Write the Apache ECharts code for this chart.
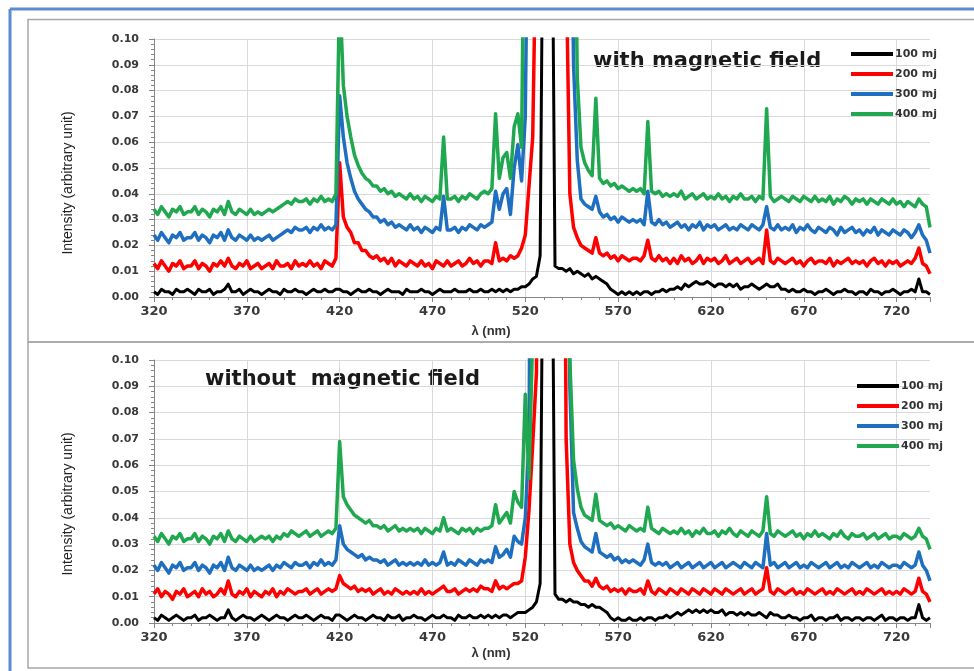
<!DOCTYPE html>
<html>
<head>
<meta charset="utf-8">
<script src="https://cdn.jsdelivr.net/npm/echarts@6/dist/echarts.min.js"></script>
<style>
html,body{margin:0;padding:0;background:#fff;}
#chart{width:974px;height:671px;}
</style>
</head>
<body>
<div id="chart"></div>
<script>
// Wavelength samples (nm)
const wavelength = [
320,322,324,326,328,330,332,334,336,338,
340,342,344,346,348,350,352,354,356,358,
360,362,364,366,368,370,372,374,376,378,
380,382,384,386,388,390,392,394,396,398,
400,402,404,406,408,410,412,414,416,418,
420,422,424,426,428,430,432,434,436,438,
440,442,444,446,448,450,452,454,456,458,
460,462,464,466,468,470,472,474,476,478,
480,482,484,486,488,490,492,494,496,498,
500,502,504,506,508,510,512,514,516,518,
520,522,524,526,528,530,532,534,536,538,
540,542,544,546,548,550,552,554,556,558,
560,562,564,566,568,570,572,574,576,578,
580,582,584,586,588,590,592,594,596,598,
600,602,604,606,608,610,612,614,616,618,
620,622,624,626,628,630,632,634,636,638,
640,642,644,646,648,650,652,654,656,658,
660,662,664,666,668,670,672,674,676,678,
680,682,684,686,688,690,692,694,696,698,
700,702,704,706,708,710,712,714,716,718,
720,722,724,726,728,730,732,734,736,738
];

const seriesNames = ['100 mj', '200 mj', '300 mj', '400 mj'];
const xTickLabels = [320, 370, 420, 470, 520, 570, 620, 670, 720];

// ---------- with magnetic field ----------
const int100_with = [
0.002,0.001,0.003,0.002,0.002,0.001,0.003,0.002,0.002,0.003,
0.002,0.001,0.003,0.002,0.002,0.003,0.001,0.002,0.002,0.003,
0.005,0.002,0.002,0.003,0.001,0.002,0.003,0.002,0.002,0.001,
0.002,0.003,0.002,0.002,0.001,0.003,0.002,0.002,0.003,0.002,
0.002,0.001,0.002,0.003,0.002,0.002,0.003,0.002,0.002,0.003,
0.003,0.002,0.002,0.001,0.002,0.003,0.002,0.002,0.003,0.002,
0.002,0.001,0.002,0.003,0.002,0.002,0.002,0.001,0.003,0.002,
0.002,0.002,0.003,0.002,0.002,0.001,0.002,0.003,0.002,0.002,
0.002,0.003,0.002,0.002,0.002,0.003,0.002,0.002,0.003,0.002,
0.002,0.003,0.002,0.003,0.002,0.003,0.002,0.003,0.003,0.004,
0.004,0.005,0.007,0.008,0.016,0.2,0.3,0.2,0.012,0.011,
0.011,0.010,0.011,0.009,0.010,0.009,0.008,0.009,0.007,0.008,
0.007,0.006,0.005,0.003,0.002,0.001,0.002,0.001,0.002,0.001,
0.002,0.001,0.002,0.002,0.001,0.002,0.002,0.003,0.002,0.003,
0.003,0.004,0.003,0.005,0.004,0.005,0.006,0.005,0.005,0.006,
0.005,0.004,0.005,0.005,0.004,0.005,0.004,0.005,0.003,0.004,
0.004,0.005,0.004,0.003,0.004,0.005,0.004,0.004,0.005,0.003,
0.003,0.002,0.003,0.002,0.002,0.003,0.002,0.002,0.001,0.002,
0.002,0.003,0.002,0.001,0.002,0.002,0.003,0.002,0.002,0.001,
0.002,0.002,0.001,0.003,0.002,0.002,0.001,0.002,0.002,0.003,
0.002,0.001,0.002,0.002,0.003,0.002,0.007,0.002,0.002,0.001
];
const int200_with = [
0.013,0.011,0.014,0.012,0.010,0.013,0.012,0.014,0.011,0.012,
0.012,0.014,0.011,0.013,0.012,0.010,0.013,0.012,0.014,0.012,
0.015,0.012,0.011,0.013,0.012,0.014,0.011,0.012,0.013,0.011,
0.012,0.013,0.011,0.014,0.012,0.012,0.013,0.011,0.014,0.012,
0.013,0.012,0.014,0.012,0.013,0.011,0.014,0.013,0.012,0.015,
0.052,0.031,0.027,0.025,0.021,0.021,0.018,0.018,0.016,0.015,
0.016,0.014,0.015,0.013,0.015,0.012,0.014,0.013,0.012,0.014,
0.013,0.012,0.014,0.012,0.013,0.011,0.014,0.013,0.012,0.014,
0.012,0.013,0.014,0.012,0.013,0.015,0.013,0.014,0.012,0.014,
0.014,0.013,0.021,0.014,0.015,0.014,0.016,0.015,0.016,0.019,
0.024,0.043,0.062,0.15,0.3,0.3,0.3,0.3,0.3,0.3,
0.3,0.13,0.040,0.027,0.023,0.020,0.019,0.018,0.017,0.023,
0.017,0.016,0.017,0.015,0.016,0.014,0.016,0.015,0.014,0.015,
0.015,0.014,0.016,0.022,0.015,0.014,0.016,0.014,0.015,0.013,
0.015,0.013,0.016,0.014,0.015,0.013,0.014,0.016,0.013,0.015,
0.014,0.015,0.013,0.014,0.016,0.013,0.014,0.015,0.013,0.014,
0.015,0.013,0.014,0.015,0.013,0.026,0.014,0.013,0.015,0.014,
0.013,0.014,0.015,0.013,0.014,0.012,0.014,0.015,0.013,0.014,
0.014,0.013,0.015,0.012,0.014,0.013,0.014,0.015,0.013,0.014,
0.013,0.014,0.012,0.014,0.015,0.013,0.014,0.012,0.014,0.013,
0.014,0.012,0.013,0.014,0.013,0.015,0.019,0.013,0.012,0.009
];
const int300_with = [
0.024,0.022,0.025,0.023,0.021,0.024,0.023,0.025,0.022,0.023,
0.023,0.025,0.022,0.024,0.023,0.021,0.024,0.023,0.025,0.022,
0.026,0.023,0.022,0.024,0.023,0.022,0.024,0.022,0.023,0.022,
0.023,0.024,0.022,0.023,0.024,0.025,0.026,0.025,0.027,0.026,
0.026,0.027,0.025,0.027,0.026,0.028,0.026,0.027,0.026,0.028,
0.078,0.062,0.052,0.046,0.041,0.038,0.036,0.034,0.033,0.031,
0.031,0.029,0.030,0.028,0.029,0.027,0.028,0.027,0.026,0.028,
0.026,0.027,0.025,0.027,0.026,0.025,0.027,0.026,0.039,0.026,
0.026,0.027,0.025,0.027,0.026,0.028,0.027,0.026,0.028,0.027,
0.028,0.029,0.041,0.034,0.040,0.042,0.032,0.050,0.059,0.045,
0.07,0.2,0.3,0.3,0.3,0.3,0.3,0.3,0.3,0.3,
0.3,0.3,0.2,0.09,0.053,0.038,0.036,0.035,0.034,0.039,
0.033,0.031,0.032,0.030,0.031,0.029,0.031,0.030,0.029,0.030,
0.029,0.030,0.028,0.041,0.029,0.028,0.030,0.028,0.029,0.027,
0.028,0.029,0.027,0.028,0.026,0.028,0.027,0.029,0.026,0.028,
0.027,0.028,0.026,0.027,0.028,0.026,0.027,0.026,0.028,0.027,
0.026,0.028,0.027,0.026,0.028,0.035,0.027,0.026,0.028,0.026,
0.027,0.026,0.028,0.025,0.027,0.026,0.028,0.026,0.025,0.027,
0.026,0.025,0.027,0.026,0.024,0.027,0.025,0.026,0.027,0.025,
0.026,0.024,0.026,0.025,0.027,0.024,0.026,0.025,0.024,0.026,
0.025,0.024,0.026,0.025,0.023,0.025,0.028,0.024,0.022,0.017
];
const int400_with = [
0.034,0.032,0.035,0.033,0.031,0.034,0.033,0.035,0.032,0.033,
0.033,0.035,0.032,0.034,0.033,0.031,0.034,0.033,0.035,0.032,
0.037,0.033,0.032,0.034,0.033,0.032,0.034,0.032,0.033,0.032,
0.033,0.034,0.033,0.034,0.035,0.036,0.037,0.036,0.038,0.037,
0.037,0.038,0.036,0.038,0.037,0.039,0.037,0.038,0.037,0.040,
0.12,0.082,0.070,0.062,0.055,0.051,0.048,0.046,0.045,0.043,
0.043,0.041,0.042,0.040,0.041,0.039,0.040,0.039,0.038,0.040,
0.038,0.039,0.037,0.039,0.038,0.037,0.039,0.038,0.062,0.038,
0.038,0.039,0.037,0.039,0.038,0.040,0.039,0.038,0.040,0.041,
0.040,0.042,0.071,0.046,0.054,0.056,0.046,0.066,0.071,0.058,
0.2,0.3,0.3,0.3,0.3,0.3,0.3,0.3,0.3,0.3,
0.3,0.3,0.3,0.2,0.085,0.058,0.052,0.049,0.047,0.077,
0.046,0.044,0.045,0.043,0.044,0.042,0.043,0.042,0.041,0.042,
0.041,0.042,0.040,0.068,0.041,0.040,0.041,0.039,0.040,0.039,
0.040,0.039,0.041,0.038,0.039,0.040,0.038,0.039,0.040,0.038,
0.039,0.038,0.040,0.038,0.039,0.037,0.039,0.038,0.040,0.038,
0.038,0.039,0.037,0.039,0.038,0.073,0.039,0.037,0.038,0.039,
0.038,0.037,0.039,0.038,0.037,0.039,0.038,0.037,0.039,0.037,
0.038,0.037,0.039,0.036,0.038,0.037,0.039,0.038,0.036,0.038,
0.037,0.038,0.036,0.038,0.037,0.036,0.038,0.037,0.036,0.038,
0.036,0.037,0.035,0.037,0.036,0.035,0.038,0.036,0.035,0.027
];

// ---------- without magnetic field ----------
const int100_without = [
0.002,0.001,0.003,0.002,0.001,0.002,0.003,0.002,0.001,0.002,
0.002,0.003,0.001,0.002,0.002,0.003,0.002,0.001,0.002,0.002,
0.005,0.002,0.001,0.002,0.003,0.002,0.002,0.001,0.002,0.003,
0.002,0.001,0.002,0.003,0.002,0.002,0.001,0.002,0.003,0.002,
0.002,0.003,0.002,0.001,0.002,0.003,0.002,0.002,0.001,0.003,
0.003,0.002,0.001,0.002,0.003,0.002,0.002,0.001,0.002,0.003,
0.002,0.002,0.001,0.003,0.002,0.002,0.003,0.001,0.002,0.002,
0.003,0.002,0.002,0.001,0.002,0.003,0.002,0.002,0.003,0.002,
0.002,0.001,0.003,0.002,0.002,0.003,0.002,0.002,0.003,0.002,
0.003,0.002,0.003,0.002,0.003,0.003,0.002,0.003,0.004,0.004,
0.004,0.005,0.006,0.008,0.015,0.2,0.3,0.2,0.011,0.009,
0.009,0.008,0.009,0.008,0.008,0.007,0.007,0.006,0.007,0.006,
0.006,0.005,0.004,0.002,0.001,0.002,0.001,0.001,0.002,0.001,
0.001,0.002,0.001,0.002,0.002,0.001,0.002,0.002,0.003,0.002,
0.003,0.004,0.003,0.004,0.005,0.004,0.005,0.004,0.005,0.004,
0.005,0.004,0.004,0.005,0.003,0.004,0.004,0.003,0.004,0.003,
0.004,0.003,0.003,0.004,0.003,0.002,0.004,0.003,0.003,0.002,
0.002,0.003,0.002,0.002,0.001,0.002,0.002,0.003,0.001,0.002,
0.002,0.001,0.002,0.002,0.003,0.001,0.002,0.002,0.001,0.002,
0.002,0.001,0.002,0.002,0.001,0.002,0.003,0.001,0.002,0.002,
0.001,0.002,0.002,0.001,0.002,0.002,0.007,0.002,0.001,0.002
];
const int200_without = [
0.011,0.013,0.010,0.012,0.011,0.009,0.012,0.011,0.013,0.010,
0.011,0.012,0.010,0.013,0.011,0.012,0.010,0.011,0.013,0.011,
0.016,0.011,0.010,0.012,0.011,0.013,0.010,0.012,0.011,0.010,
0.012,0.011,0.013,0.010,0.012,0.011,0.013,0.012,0.011,0.012,
0.012,0.013,0.011,0.012,0.013,0.011,0.012,0.013,0.012,0.013,
0.018,0.015,0.014,0.013,0.014,0.012,0.013,0.012,0.013,0.011,
0.012,0.013,0.011,0.012,0.011,0.013,0.012,0.011,0.012,0.011,
0.012,0.011,0.013,0.011,0.012,0.011,0.012,0.013,0.014,0.012,
0.012,0.013,0.011,0.012,0.013,0.012,0.013,0.012,0.014,0.013,
0.013,0.012,0.016,0.013,0.014,0.013,0.014,0.015,0.015,0.016,
0.025,0.043,0.068,0.095,0.3,0.3,0.3,0.3,0.3,0.3,
0.3,0.07,0.030,0.023,0.020,0.018,0.016,0.016,0.014,0.017,
0.014,0.013,0.014,0.012,0.013,0.012,0.013,0.011,0.013,0.012,
0.012,0.013,0.011,0.016,0.012,0.011,0.013,0.012,0.011,0.013,
0.012,0.011,0.013,0.012,0.011,0.013,0.012,0.011,0.013,0.012,
0.011,0.013,0.012,0.011,0.013,0.012,0.011,0.012,0.013,0.011,
0.012,0.013,0.011,0.012,0.013,0.021,0.012,0.011,0.013,0.012,
0.011,0.012,0.013,0.011,0.012,0.011,0.013,0.012,0.011,0.012,
0.013,0.011,0.012,0.011,0.013,0.012,0.011,0.012,0.013,0.011,
0.012,0.011,0.013,0.012,0.011,0.012,0.013,0.011,0.012,0.011,
0.012,0.011,0.013,0.012,0.011,0.012,0.017,0.012,0.011,0.008
];
const int300_without = [
0.022,0.020,0.023,0.021,0.019,0.022,0.021,0.023,0.020,0.021,
0.021,0.023,0.020,0.022,0.021,0.019,0.022,0.021,0.023,0.020,
0.025,0.021,0.020,0.022,0.021,0.020,0.022,0.020,0.021,0.020,
0.021,0.022,0.020,0.022,0.021,0.023,0.022,0.021,0.023,0.022,
0.022,0.023,0.021,0.023,0.022,0.024,0.022,0.023,0.022,0.024,
0.037,0.030,0.028,0.027,0.026,0.025,0.026,0.024,0.025,0.024,
0.024,0.023,0.024,0.022,0.023,0.024,0.022,0.023,0.022,0.023,
0.022,0.023,0.022,0.024,0.022,0.023,0.022,0.023,0.027,0.022,
0.023,0.022,0.024,0.023,0.022,0.024,0.023,0.022,0.024,0.023,
0.024,0.023,0.029,0.025,0.026,0.028,0.025,0.033,0.031,0.030,
0.040,0.070,0.3,0.3,0.3,0.3,0.3,0.3,0.3,0.3,
0.3,0.3,0.09,0.042,0.036,0.031,0.029,0.028,0.027,0.034,
0.027,0.026,0.025,0.026,0.024,0.025,0.023,0.024,0.023,0.024,
0.023,0.022,0.024,0.030,0.023,0.022,0.023,0.022,0.023,0.021,
0.022,0.023,0.021,0.022,0.023,0.021,0.022,0.023,0.021,0.022,
0.023,0.021,0.022,0.023,0.021,0.022,0.023,0.022,0.021,0.023,
0.022,0.021,0.023,0.022,0.021,0.034,0.022,0.023,0.021,0.022,
0.023,0.021,0.022,0.023,0.021,0.022,0.021,0.023,0.022,0.021,
0.022,0.023,0.021,0.022,0.023,0.021,0.022,0.021,0.023,0.022,
0.021,0.022,0.023,0.021,0.022,0.021,0.023,0.022,0.021,0.022,
0.022,0.021,0.023,0.022,0.021,0.022,0.027,0.022,0.020,0.016
];
const int400_without = [
0.033,0.031,0.034,0.032,0.030,0.033,0.032,0.034,0.031,0.032,
0.032,0.034,0.031,0.033,0.032,0.030,0.033,0.032,0.034,0.031,
0.035,0.032,0.031,0.033,0.032,0.031,0.033,0.031,0.032,0.033,
0.032,0.033,0.031,0.033,0.032,0.034,0.033,0.035,0.034,0.033,
0.034,0.035,0.033,0.034,0.035,0.033,0.034,0.035,0.034,0.036,
0.069,0.048,0.045,0.043,0.041,0.040,0.039,0.038,0.039,0.037,
0.037,0.036,0.037,0.035,0.036,0.037,0.035,0.036,0.035,0.036,
0.035,0.036,0.034,0.036,0.035,0.034,0.036,0.035,0.040,0.035,
0.036,0.035,0.034,0.036,0.035,0.036,0.034,0.036,0.035,0.036,
0.036,0.037,0.045,0.038,0.040,0.042,0.038,0.050,0.046,0.044,
0.087,0.055,0.11,0.3,0.3,0.3,0.3,0.3,0.3,0.3,
0.3,0.3,0.1,0.062,0.051,0.044,0.041,0.040,0.039,0.049,
0.039,0.038,0.037,0.038,0.036,0.037,0.036,0.035,0.037,0.036,
0.035,0.036,0.035,0.044,0.036,0.035,0.034,0.036,0.035,0.034,
0.035,0.034,0.036,0.034,0.035,0.033,0.035,0.034,0.036,0.034,
0.034,0.035,0.033,0.035,0.034,0.036,0.034,0.033,0.035,0.034,
0.033,0.035,0.034,0.033,0.035,0.048,0.034,0.033,0.035,0.034,
0.033,0.034,0.035,0.033,0.034,0.032,0.034,0.033,0.035,0.033,
0.034,0.033,0.032,0.034,0.033,0.035,0.033,0.032,0.034,0.033,
0.033,0.034,0.032,0.033,0.034,0.032,0.033,0.034,0.032,0.033,
0.033,0.032,0.034,0.033,0.032,0.033,0.036,0.033,0.032,0.028
];

const colors = ['#000000', '#ff0000', '#1f6fc0', '#1fa84f'];
const lineWidths = [3, 3.5, 3.5, 3.5];
const withSets = [int100_with, int200_with, int300_with, int400_with];
const withoutSets = [int100_without, int200_without, int300_without, int400_without];

function pairs(arr) { return wavelength.map((w, i) => [w, arr[i]]); }

const axisGray = '#868686';
const gridGray = '#d9d9d9';
const labelColor = '#3a3a3a';

function makeX(idx) {
  return {
    type: 'value', gridIndex: idx, min: 320, max: 738, interval: 50,
    axisLine: { show: true, onZero: false, lineStyle: { color: axisGray, width: 1 } },
    axisTick: { show: true, length: 5, lineStyle: { color: axisGray } },
    minorTick: { show: true, splitNumber: 5, length: 3, lineStyle: { color: axisGray } },
    axisLabel: {
      fontFamily: 'DejaVu Sans', fontWeight: 'bold', fontSize: 13, color: labelColor, margin: 8,
      showMaxLabel: false,
      formatter: v => (xTickLabels.indexOf(v) >= 0 ? String(v) : '')
    },
    splitLine: { show: true, showMinLine: false, showMaxLine: false, lineStyle: { color: gridGray, width: 1 } }
  };
}
function makeY(idx) {
  return {
    type: 'value', gridIndex: idx, min: 0, max: 0.1, interval: 0.01,
    axisLine: { show: true, lineStyle: { color: axisGray, width: 1 } },
    axisTick: { show: true, length: 5, lineStyle: { color: axisGray } },
    minorTick: { show: true, splitNumber: 5, length: 3, lineStyle: { color: axisGray } },
    axisLabel: {
      fontFamily: 'DejaVu Sans', fontWeight: 'bold', fontSize: 11, color: labelColor, margin: 15,
      formatter: v => v.toFixed(2)
    },
    splitLine: { show: true, lineStyle: { color: gridGray, width: 1 } }
  };
}

const series = [];
withSets.forEach((arr, k) => series.push({
  name: seriesNames[k], type: 'line', xAxisIndex: 0, yAxisIndex: 0,
  data: pairs(arr), showSymbol: false, symbol: 'none', clip: true,
  lineStyle: { width: lineWidths[k], color: colors[k], join: 'round' }, itemStyle: { color: colors[k] }, z: 2 + k
}));
withoutSets.forEach((arr, k) => series.push({
  name: seriesNames[k], type: 'line', xAxisIndex: 1, yAxisIndex: 1,
  data: pairs(arr), showSymbol: false, symbol: 'none', clip: true,
  lineStyle: { width: lineWidths[k], color: colors[k], join: 'round' }, itemStyle: { color: colors[k] }, z: 2 + k
}));

function makeLegend(left, top) {
  return {
    orient: 'vertical', left: left, top: top, icon: 'rect',
    itemWidth: 42, itemHeight: 4, itemGap: 8, selectedMode: false,
    textStyle: { fontFamily: 'DejaVu Sans', fontWeight: 'bold', fontSize: 11, color: '#333', lineHeight: 12, padding: [0, 0, 0, -3] },
    data: seriesNames
  };
}

const titleFont = 'bold 21px "DejaVu Sans"';
const yNameFont = '14px "Liberation Sans"';
const xNameFont = 'bold 13px "Liberation Sans"';

const option = {
  backgroundColor: '#ffffff',
  animation: false,
  grid: [
    { left: 154, top: 39, width: 776, height: 258 },
    { left: 154, top: 360, width: 776, height: 263 }
  ],
  xAxis: [makeX(0), makeX(1)],
  yAxis: [makeY(0), makeY(1)],
  legend: [makeLegend(846, 43), makeLegend(852, 375)],
  series: series,
  graphic: { elements: [
    { type: 'line', shape: { x1: 10, y1: 9, x2: 10, y2: 671 }, style: { stroke: '#5b8bd0', lineWidth: 3 }, silent: true },
    { type: 'line', shape: { x1: 10, y1: 9, x2: 974, y2: 9 }, style: { stroke: '#5b8bd0', lineWidth: 3 }, silent: true },
    { type: 'rect', shape: { x: 28, y: 19.5, width: 960, height: 322.5 }, style: { fill: 'none', stroke: '#a6a6a6', lineWidth: 1.5 }, silent: true },
    { type: 'rect', shape: { x: 28, y: 342, width: 960, height: 326 }, style: { fill: 'none', stroke: '#a6a6a6', lineWidth: 1.5 }, silent: true },
    { type: 'text', x: 593, y: 62, style: { text: 'with magnetic field', font: titleFont, fill: '#1a1a1a', align: 'left', verticalAlign: 'middle' }, silent: true },
    { type: 'text', x: 205, y: 380, style: { text: 'without  magnetic field', font: titleFont, fill: '#1a1a1a', align: 'left', verticalAlign: 'middle' }, silent: true },
    { type: 'text', x: 68, y: 183, rotation: Math.PI / 2, style: { text: 'Intensity (arbitrary unit)', font: yNameFont, fill: '#222', align: 'center', verticalAlign: 'middle' }, silent: true },
    { type: 'text', x: 68, y: 504, rotation: Math.PI / 2, style: { text: 'Intensity (arbitrary unit)', font: yNameFont, fill: '#222', align: 'center', verticalAlign: 'middle' }, silent: true },
    { type: 'text', x: 491, y: 331, style: { text: 'λ (nm)', font: xNameFont, fill: '#333', align: 'center', verticalAlign: 'middle' }, silent: true },
    { type: 'text', x: 491, y: 653, style: { text: 'λ (nm)', font: xNameFont, fill: '#333', align: 'center', verticalAlign: 'middle' }, silent: true }
  ] }
};

const chart = echarts.init(document.getElementById('chart'), null, { renderer: 'canvas' });
chart.setOption(option);
</script>
</body>
</html>
